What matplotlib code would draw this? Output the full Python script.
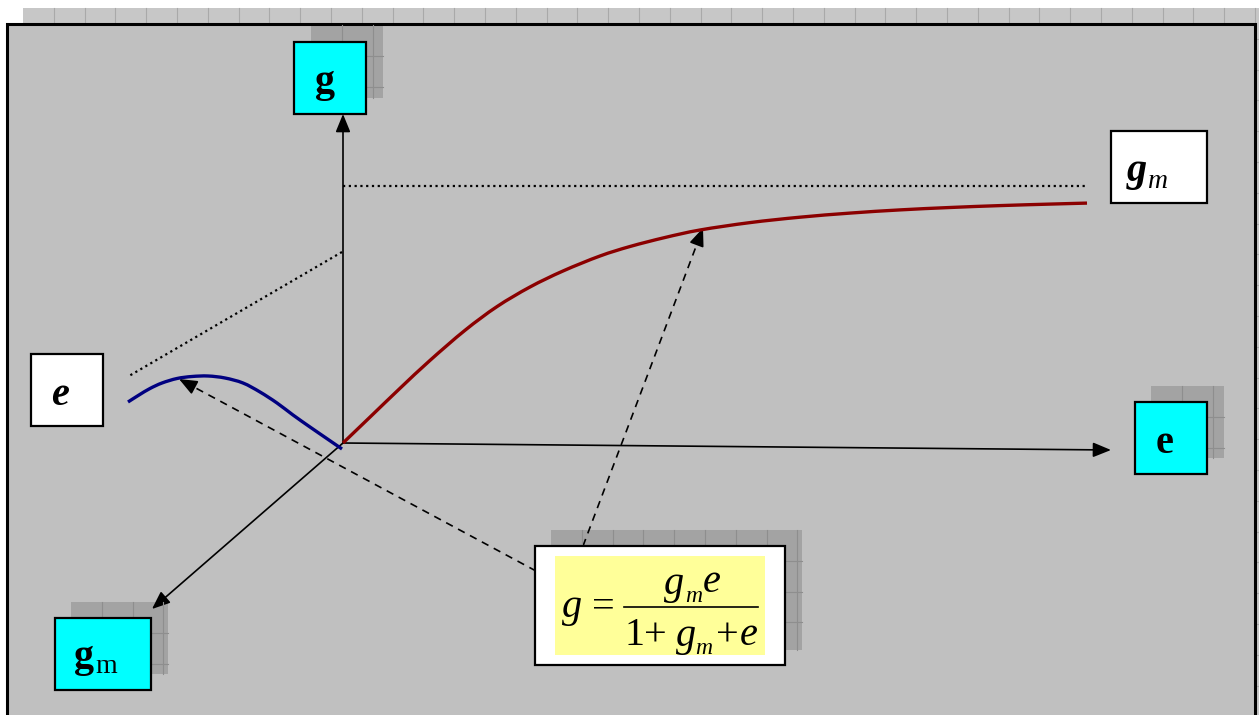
import matplotlib
matplotlib.use("Agg")
import matplotlib.pyplot as plt
from matplotlib.patches import Rectangle, PathPatch
from matplotlib.path import Path

# ---------------- data (diagram coordinates, pixel space) ----------------
red_x = [343, 370, 400, 430, 465, 497, 530, 563, 600, 630, 665, 700, 750, 800, 850, 900, 950, 1000, 1050, 1087]
red_y = [443, 417.1, 388.3, 360.4, 330.3, 306.6, 287, 271, 256, 246.5, 237.5, 230, 222.6, 217.2, 213.1, 209.9, 207.5, 205.6, 204.1, 203.1]

blue_x = [342, 326, 310, 293, 277, 260, 243, 225, 208, 192, 177, 162, 150, 139, 128]
blue_y = [449, 438, 427, 415, 403, 392, 383, 378, 376, 376.5, 378.5, 383, 388.5, 395, 402]

asym_h_x = [343, 1087]
asym_h_y = [186, 186]
asym_d_x = [342, 129]
asym_d_y = [252, 376]

label_g = "g"
label_e = "e"
label_gm_g = "g"
label_gm_m = "m"

# ---------------- figure ----------------
fig = plt.figure(figsize=(12.59, 7.15), dpi=100)
ax = fig.add_axes([0, 0, 1, 1])
ax.set_xlim(0, 1259)
ax.set_ylim(715, 0)
ax.axis("off")
fig.patch.set_facecolor("white")

CELL = 30.8


def shadow(x0, y0, x1, y1, face, line, z, alpha=1.0):
    ax.add_patch(Rectangle((x0, y0), x1 - x0, y1 - y0, facecolor=face,
                           edgecolor="none", zorder=z, alpha=alpha))
    x = x0 + CELL
    while x < x1 - 1:
        ax.plot([x, x], [y0, y1], color=line, lw=0.8, zorder=z + 0.1)
        x += CELL
    y = y0 + CELL
    while y < y1 - 1:
        ax.plot([x0, x1], [y, y], color=line, lw=0.8, zorder=z + 0.1)
        y += CELL


def box(x0, y0, x1, y1, face, z=6):
    ax.add_patch(Rectangle((x0, y0), x1 - x0, y1 - y0, facecolor=face,
                           edgecolor="black", lw=1.6, zorder=z))


def smooth_curve(xs, ys, color, lw, z):
    """Draw a smooth curve passing through the given points (Catmull-Rom as Bezier)."""
    pts = list(zip(xs, ys))
    n = len(pts)
    verts = [pts[0]]
    codes = [Path.MOVETO]
    for i in range(n - 1):
        p0 = pts[i - 1] if i > 0 else pts[i]
        p1 = pts[i]
        p2 = pts[i + 1]
        p3 = pts[i + 2] if i + 2 < n else pts[i + 1]
        c1 = (p1[0] + (p2[0] - p0[0]) / 6.0, p1[1] + (p2[1] - p0[1]) / 6.0)
        c2 = (p2[0] - (p3[0] - p1[0]) / 6.0, p2[1] - (p3[1] - p1[1]) / 6.0)
        verts += [c1, c2, p2]
        codes += [Path.CURVE4] * 3
    ax.add_patch(PathPatch(Path(verts, codes), facecolor="none", edgecolor=color,
                           lw=lw, capstyle="butt", zorder=z))


# frame shadow + frame
shadow(23, 8, 1275, 740, "#c7c7c7", "#a9a9a9", 0)
ax.add_patch(Rectangle((7, 24), 1248, 720, facecolor="#c0c0c0",
                       edgecolor="black", lw=2.2, zorder=1))

# asymptote dotted lines
ax.plot(asym_h_x, asym_h_y, color="black", lw=1.6, ls=(0, (1, 1.6)), zorder=2)
ax.plot(asym_d_x, asym_d_y, color="black", lw=1.6, ls=(0, (1, 1.6)), zorder=2)

# axes arrows
AP = dict(arrowstyle="-|>,head_length=1.1,head_width=0.45", color="black",
          lw=1.2, shrinkA=0, shrinkB=0, mutation_scale=10)
ax.annotate("", xy=(343, 114), xytext=(343, 443), arrowprops=AP, zorder=3)
ax.annotate("", xy=(1111, 450), xytext=(343, 443), arrowprops=AP, zorder=3)
ax.annotate("", xy=(152, 609), xytext=(343, 443), arrowprops=AP, zorder=3)

# curves
smooth_curve(red_x, red_y, "#8b0000", 2.4, 4)
smooth_curve(blue_x, blue_y, "#000080", 2.4, 4)


# dashed pointer arrows
def dashed_arrow(start, tip):
    sx, sy = start
    tx, ty = tip
    dx, dy = tx - sx, ty - sy
    L = (dx * dx + dy * dy) ** 0.5
    bx, by = tx - dx / L * 14, ty - dy / L * 14
    ax.plot([sx, bx], [sy, by], color="black", lw=1.2, ls=(0, (4.5, 3.6)), zorder=3)
    ax.annotate("", xy=(tx, ty), xytext=(bx, by), arrowprops=AP, zorder=3)


dashed_arrow((536, 571), (179, 379))
dashed_arrow((583, 546), (703, 228))

# box shadows (semi-transparent)
shadow(311, 25, 383, 98, "black", "#8e8e8e", 5, alpha=0.15)
shadow(1151, 386, 1224, 458, "black", "#8e8e8e", 5, alpha=0.15)
shadow(71, 602, 168, 674, "black", "#8e8e8e", 5, alpha=0.15)
shadow(551, 530, 802, 650, "black", "#8e8e8e", 5, alpha=0.15)

# boxes
box(294, 42, 366, 114, "#00ffff")
box(1111, 131, 1207, 203, "white")
box(31, 354, 103, 426, "white")
box(1135, 402, 1207, 474, "#00ffff")
box(55, 618, 151, 690, "#00ffff")
box(535, 546, 785, 665, "white")
ax.add_patch(Rectangle((555, 556), 210, 99, facecolor="#ffff99",
                       edgecolor="none", zorder=7))

SERIF = "Liberation Serif"
T = dict(family=SERIF, zorder=8, va="baseline")

# labels
ax.text(325.5, 92, label_g, fontsize=29, weight="bold", ha="center", **T)
ax.text(1164.5, 453, label_e, fontsize=29, weight="bold", ha="center", **T)
ax.text(60, 405, label_e, fontsize=29, weight="bold", style="italic", ha="center", **T)
ax.text(1127, 181, label_gm_g, fontsize=29, weight="bold", style="italic", ha="left", **T)
ax.text(1148, 188, label_gm_m, fontsize=20, style="italic", ha="left", **T)
ax.text(74, 667, label_gm_g, fontsize=29, weight="bold", ha="left", **T)
ax.text(95, 673, label_gm_m, fontsize=20, ha="left", **T)

# formula  g = g_m e / (1 + g_m + e)
FS = 29
SUB = 17
ax.text(562, 617, "g", fontsize=FS, style="italic", ha="left", **T)
ax.text(603, 617, "=", fontsize=FS, ha="center", **T)
ax.plot([624, 758], [607, 607], color="black", lw=1.2, zorder=8)
ax.text(664, 594, "g", fontsize=FS, style="italic", ha="left", **T)
ax.text(685, 602, "m", fontsize=SUB, style="italic", ha="left", **T)
ax.text(703, 592, "e", fontsize=FS, style="italic", ha="left", **T)
ax.text(625, 645, "1+", fontsize=FS, ha="left", **T)
ax.text(676, 646, "g", fontsize=FS, style="italic", ha="left", **T)
ax.text(695, 654, "m", fontsize=SUB, style="italic", ha="left", **T)
ax.text(727, 645, "+", fontsize=FS, ha="center", **T)
ax.text(740, 645, "e", fontsize=FS, style="italic", ha="left", **T)

fig.savefig("out.png", dpi=100)
